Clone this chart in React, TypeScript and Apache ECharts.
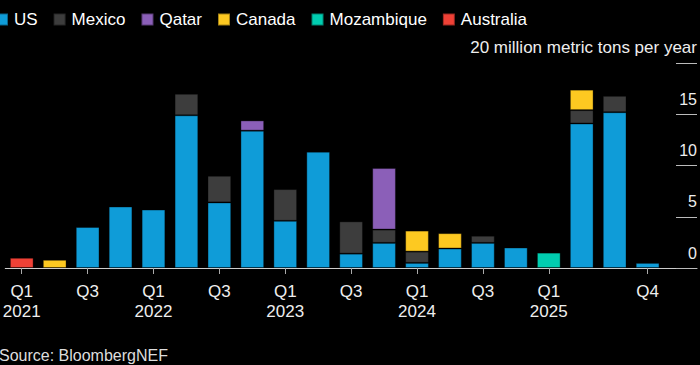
import React, { useEffect, useRef } from "react";
import * as echarts from "echarts";

const categories = [
  "Q1 2021", "Q2 2021", "Q3 2021", "Q4 2021",
  "Q1 2022", "Q2 2022", "Q3 2022", "Q4 2022",
  "Q1 2023", "Q2 2023", "Q3 2023", "Q4 2023",
  "Q1 2024", "Q2 2024", "Q3 2024", "Q4 2024",
  "Q1 2025", "Q2 2025", "Q3 2025", "Q4 2025",
];
const tickLabels = [
  "Q1\n2021", "", "Q3", "",
  "Q1\n2022", "", "Q3", "",
  "Q1\n2023", "", "Q3", "",
  "Q1\n2024", "", "Q3", "",
  "Q1\n2025", "", "", "Q4",
];
const usValues = [null, null, 4.0, 6.0, 5.7, 14.9, 6.4, 13.4, 4.6, 11.35, 1.4, 2.45, 0.5, 1.9, 2.45, 2.0, null, 14.1, 15.2, 0.5];
const mexicoValues = [null, null, null, null, null, 2.1, 2.6, null, 3.1, null, 3.15, 1.3, 1.1, null, 0.7, null, null, 1.3, 1.6, null];
const qatarValues = [null, null, null, null, null, null, null, 1.0, null, null, null, 6.0, null, null, null, null, null, null, null, null];
const canadaValues = [null, 0.8, null, null, null, null, null, null, null, null, null, null, 2.05, 1.5, null, null, null, 2.0, null, null];
const mozambiqueValues = [null, null, null, null, null, null, null, null, null, null, null, null, null, null, null, null, 1.5, null, null, null];
const australiaValues = [1.0, null, null, null, null, null, null, null, null, null, null, null, null, null, null, null, null, null, null, null];
const yTicks = [0, 5, 10, 15, 20];
const unitLabel = "million metric tons per year";

const seriesDefs = [
  { name: "US", data: usValues, color: "#0f9cd8" },
  { name: "Mexico", data: mexicoValues, color: "#3d3d3d" },
  { name: "Qatar", data: qatarValues, color: "#8b5fb8" },
  { name: "Canada", data: canadaValues, color: "#fdc921" },
  { name: "Mozambique", data: mozambiqueValues, color: "#00cdb0" },
  { name: "Australia", data: australiaValues, color: "#ef4136" },
];

const FONT = "'Liberation Sans', Arial, Helvetica, sans-serif";

export default function App() {
  const ref = useRef<HTMLDivElement>(null);
  useEffect(() => {
    if (!ref.current) return;
    const chart = echarts.init(ref.current, null, { renderer: "svg" });
    chart.setOption({
      animation: false,
      backgroundColor: "#000000",
      textStyle: { fontFamily: FONT },
      legend: {
        left: -5,
        top: 11,
        padding: 0,
        itemWidth: 12,
        itemHeight: 12,
        itemGap: 15,
        icon: "rect",
        textStyle: { color: "#ffffff", fontSize: 17, fontFamily: FONT, padding: [0, 0, 0, 1] },
        data: seriesDefs.map((s) => s.name),
      },
      grid: { left: -2, right: 3, top: 63, bottom: 97, containLabel: false },
      xAxis: {
        type: "category",
        data: categories,
        max: categories.length,
        boundaryGap: true,
        axisLine: { show: true, lineStyle: { color: "#cccccc", width: 1 } },
        axisTick: {
          show: true,
          alignWithLabel: true,
          length: 6,
          interval: (i: number) => !!tickLabels[i],
          lineStyle: { color: "#aaaaaa" },
        },
        axisLabel: {
          interval: (i: number) => !!tickLabels[i],
          formatter: (_v: string, i: number) => tickLabels[i] || "",
          color: "#eeeeee",
          fontSize: 17,
          lineHeight: 20,
          margin: 13,
          fontFamily: FONT,
        },
        splitLine: { show: false },
      },
      yAxis: {
        type: "value",
        position: "right",
        min: yTicks[0],
        max: yTicks[yTicks.length - 1],
        interval: 5,
        axisLine: { show: false },
        splitLine: { show: false },
        axisTick: { show: true, inside: true, length: 21, lineStyle: { color: "#bbbbbb" } },
        axisLabel: {
          inside: true,
          margin: 0,
          align: "right",
          verticalAlign: "bottom",
          padding: [0, 0, 7, 0],
          color: "#eeeeee",
          fontSize: 16,
          fontFamily: FONT,
          formatter: (v: number) =>
            v === yTicks[yTicks.length - 1] ? `{u|${v} ${unitLabel}}` : `${v}`,
          rich: { u: { fontSize: 17, color: "#eeeeee", fontFamily: FONT } },
        },
      },
      graphic: [
        {
          type: "text",
          left: -1,
          top: 347,
          style: { text: "Source: BloombergNEF", fill: "#dddddd", font: `16px ${FONT}` },
        },
      ],
      series: seriesDefs.map((s) => ({
        name: s.name,
        type: "bar",
        stack: "total",
        barWidth: "72%",
        data: s.data,
        itemStyle: { color: s.color, borderColor: "rgba(0,0,0,0.35)", borderWidth: 1 },
      })),
    });
    return () => chart.dispose();
  }, []);
  return (
    <div
      ref={ref}
      style={{ position: "fixed", left: 0, top: 0, width: 700, height: 365, background: "#000" }}
    />
  );
}
